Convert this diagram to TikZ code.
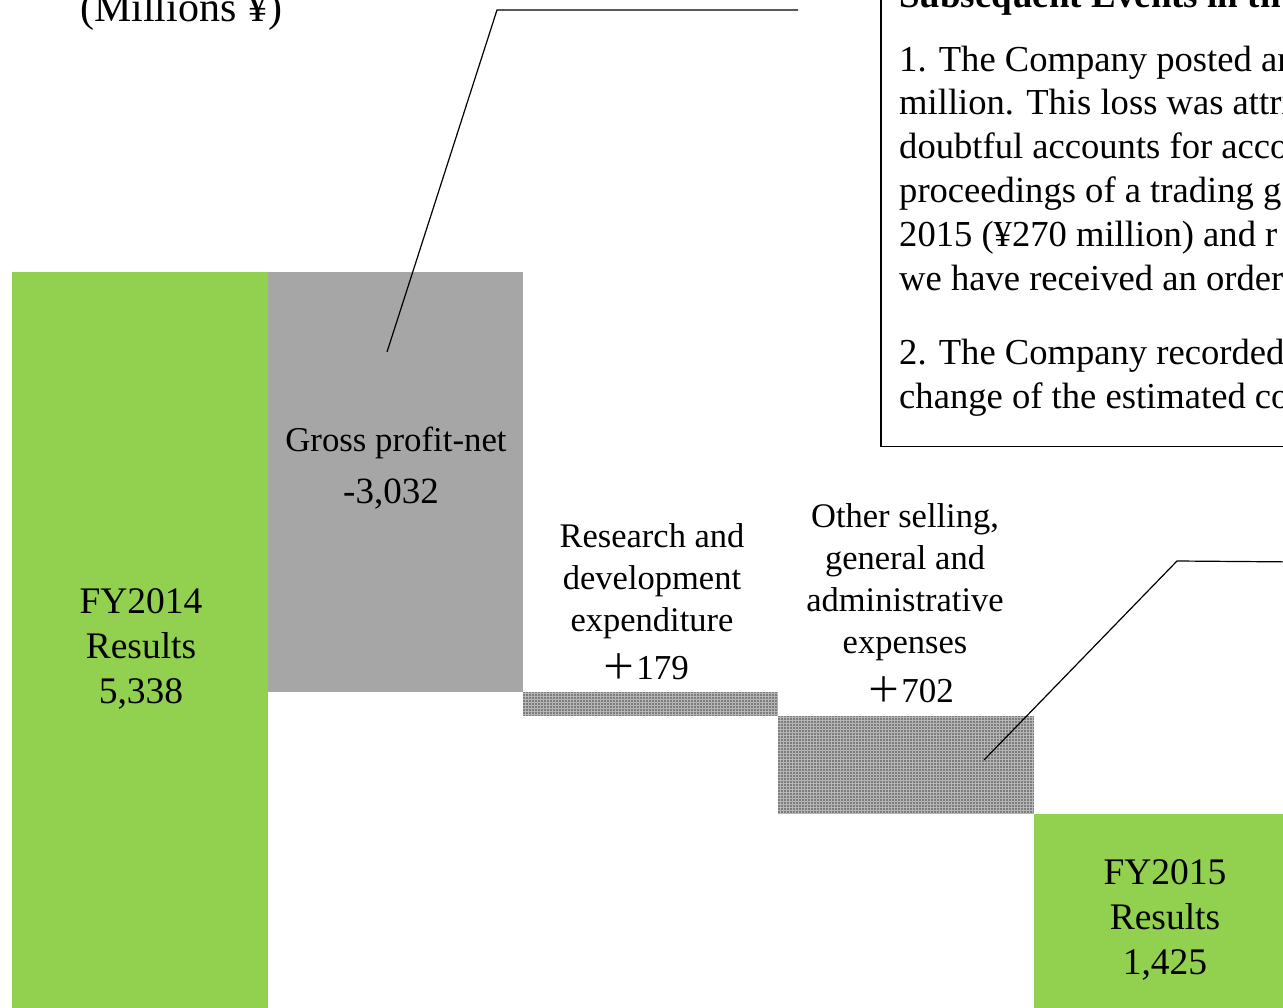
\documentclass[tikz,border=0pt]{standalone}
\usepackage{fontspec}
\setmainfont{Liberation Serif}
\newfontfamily\cjk{Noto Sans CJK JP}
\definecolor{barGreen}{HTML}{92D050}
\definecolor{barGray}{HTML}{A6A6A6}
\definecolor{hatchBase}{HTML}{7C7C7C}
\definecolor{hatchLine}{HTML}{B6B6B6}
\tikzset{
  resultbar/.style={fill=barGreen},
  lossbar/.style={fill=barGray},
  biglabel/.style={inner sep=0pt,align=center,font=\fontsize{37.5}{45}\selectfont},
  catlabel/.style={inner sep=0pt,align=center,font=\fontsize{34.5}{42}\selectfont},
  boxtext/.style={inner sep=0pt,anchor=base west,font=\fontsize{36.6}{44}\selectfont},
  callout/.style={draw=black,line width=1.2pt},
  gridline/.style={draw=hatchLine,line width=1pt},
}
\newcommand{\hatchrect}[2]{%
  \begin{scope}
    \clip #1 rectangle #2;
    \fill[hatchBase] #1 rectangle #2;
    \draw[gridline,step=3pt] #1 grid #2;
  \end{scope}}
\begin{document}
\begin{tikzpicture}[x=1pt,y=-1pt]
\useasboundingbox (0,0) rectangle (1283,1008);
\clip (0,0) rectangle (1283,1008);

% bars
\path[resultbar] (12,272) rectangle (268,1020);
\path[lossbar] (268,272) rectangle (523,692);
\hatchrect{(523,692)}{(778,716)}
\hatchrect{(778,716)}{(1034,814)}
\path[resultbar] (1034,814) rectangle (1300,1020);

% unit label
\node[inner sep=0pt,anchor=base west,font=\fontsize{42}{50}\selectfont] (unit) at (80,22) {(Millions ¥)};

% callout box
\node[draw=black,line width=1.5pt,inner sep=0pt,minimum width=440pt,minimum height=520pt,anchor=south west] (notebox) at (880,447) {};
\node[boxtext,font=\fontsize{37}{44}\selectfont\bfseries] (title) at (899,8) {Subsequent Events in th};
\node[boxtext] (l1) at (899,72) {1. The Company posted an};
\node[boxtext] (l2) at (899,115) {million. This loss was attri};
\node[boxtext] (l3) at (899,159) {doubtful accounts for acco};
\node[boxtext] (l4) at (899,203) {proceedings of a trading g};
\node[boxtext] (l5) at (899,247) {2015 (¥270 million) and r};
\node[boxtext] (l6) at (899,291) {we have received an order};
\node[boxtext] (l7) at (899,365) {2. The Company recorded};
\node[boxtext] (l8) at (899,409) {change of the estimated co};

% bar labels
\node[biglabel,anchor=north] (fy14) at (141,588) {FY2014\\Results\\5,338};
\node[biglabel,anchor=north] (fy15) at (1165,859) {FY2015\\Results\\1,425};
\node[inner sep=0pt,anchor=base,font=\fontsize{34.8}{42}\selectfont] (gp) at (396,451) {Gross profit-net};
\node[inner sep=0pt,anchor=base,font=\fontsize{37}{44}\selectfont] (gpv) at (391,503) {-3,032};
\node[catlabel,anchor=north] (rd) at (652,523) {Research and\\development\\expenditure};
\node[inner sep=0pt,anchor=base,font=\fontsize{35}{42}\selectfont] (rdv) at (645,679) {{\cjk ＋}179};
\node[catlabel,anchor=north] (sga) at (905,503) {Other selling,\\general and\\administrative\\expenses};
\node[inner sep=0pt,anchor=base,font=\fontsize{35}{42}\selectfont] (sgav) at (910,702) {{\cjk ＋}702};

% callout leaders
\coordinate (gpPt) at (387,352);
\coordinate (c1a) at (497,10);
\coordinate (c1b) at (798,10);
\draw[callout] (gpPt) -- (c1a) -- (c1b);
\coordinate (sgaPt) at (984,760);
\coordinate (c2a) at (1177,561);
\coordinate (c2b) at (1300,562);
\draw[callout] (sgaPt) -- (c2a) -- (c2b);
\end{tikzpicture}
\end{document}
